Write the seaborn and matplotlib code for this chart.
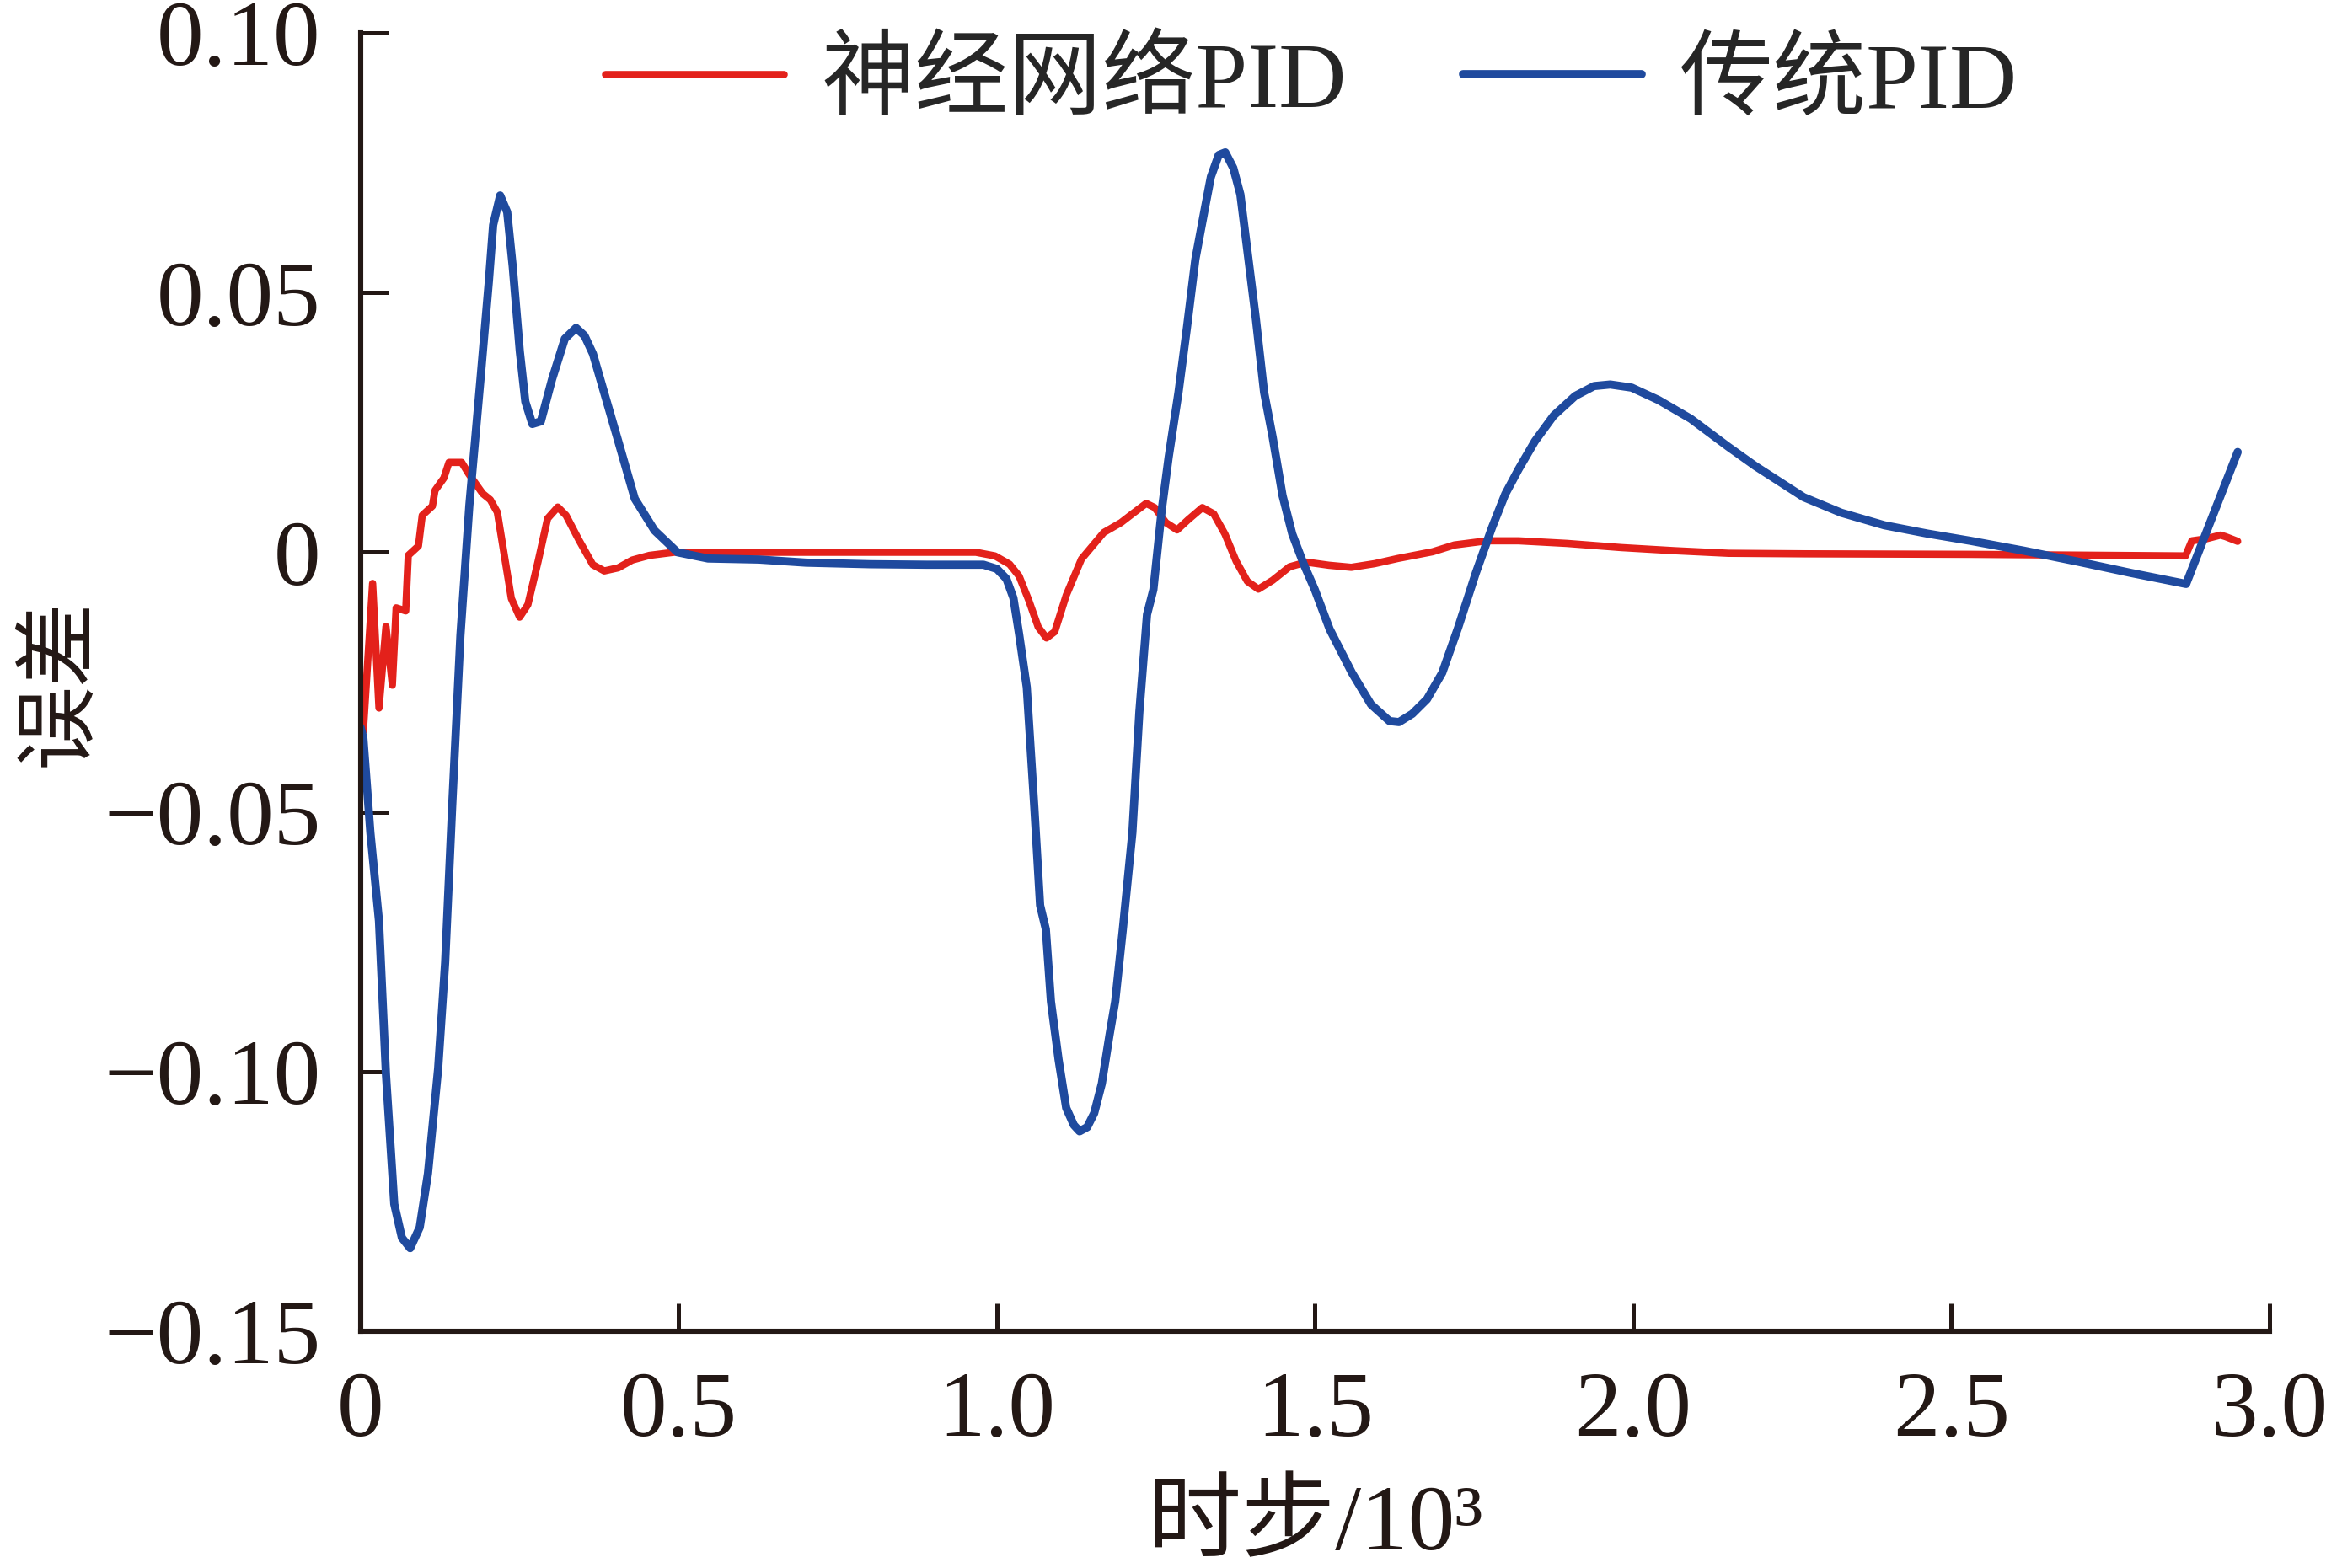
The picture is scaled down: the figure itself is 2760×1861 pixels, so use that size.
import numpy as np
import pandas as pd
import seaborn as sns
import matplotlib
matplotlib.use("Agg")
import matplotlib.pyplot as plt

# time step (x 10^3) and error
nn_x = [0.0, 0.0044, 0.019, 0.029, 0.040, 0.050, 0.056, 0.071, 0.075, 0.091, 0.097,
        0.113, 0.117, 0.131, 0.139, 0.159, 0.170, 0.192, 0.204, 0.215, 0.226, 0.237,
        0.250, 0.263, 0.279, 0.294, 0.310, 0.323, 0.343, 0.365, 0.383, 0.405, 0.427,
        0.454, 0.493, 0.626, 0.800, 0.967, 0.997, 1.020, 1.035, 1.050, 1.065, 1.078,
        1.091, 1.109, 1.133, 1.168, 1.195, 1.213, 1.2347, 1.248, 1.2657, 1.2833, 1.301,
        1.323, 1.3408, 1.3585, 1.376, 1.3937, 1.411, 1.4334, 1.46, 1.4865, 1.5218,
        1.557, 1.5935, 1.630, 1.685, 1.719, 1.770, 1.820, 1.896, 1.981, 2.065, 2.150,
        2.270, 2.530, 2.868, 2.878, 2.901, 2.923, 2.931, 2.950]
nn_y = [-0.034, -0.0345, -0.006, -0.030, -0.0143, -0.0256, -0.0107, -0.0113, -0.0006,
        0.0012, 0.0071, 0.0089, 0.0119, 0.0143, 0.0173, 0.0173, 0.0151, 0.0113, 0.0101,
        0.0077, -0.0006, -0.0089, -0.0125, -0.0101, -0.0018, 0.0065, 0.0087, 0.0071,
        0.0024, -0.0024, -0.0036, -0.003, -0.0015, -0.0006, 0.0, 0.0, 0.0, 0.0, -0.0007,
        -0.0023, -0.0046, -0.0092, -0.0144, -0.0165, -0.0153, -0.0083, -0.0013, 0.0038,
        0.0057, 0.0074, 0.0094, 0.0086, 0.0057, 0.0043, 0.0063, 0.0086, 0.0074, 0.0035,
        -0.0017, -0.0056, -0.0071, -0.0054, -0.0028, -0.0019, -0.0025, -0.0029, -0.0022,
        -0.0012, 0.0001, 0.0014, 0.0022, 0.0022, 0.0017, 0.0009, 0.0003, -0.0002,
        -0.0003, -0.0004, -0.0007, 0.0022, 0.0026, 0.0033, 0.003, 0.0021]

pid_x = [0.0, 0.0044, 0.0155, 0.029, 0.040, 0.053, 0.065, 0.078, 0.093, 0.106, 0.122,
         0.133, 0.144, 0.157, 0.171, 0.1885, 0.2017, 0.2084, 0.2194, 0.2305, 0.2392,
         0.2503, 0.259, 0.270, 0.2834, 0.301, 0.321, 0.3387, 0.352, 0.3653, 0.3806,
         0.405, 0.431, 0.462, 0.498, 0.546, 0.626, 0.700, 0.800, 0.890, 0.979, 1.000,
         1.015, 1.026, 1.035, 1.047, 1.059, 1.068, 1.077, 1.085, 1.097, 1.109, 1.121,
         1.130, 1.142, 1.153, 1.165, 1.177, 1.186, 1.198, 1.213, 1.224, 1.236, 1.246,
         1.259, 1.270, 1.2855, 1.2988, 1.312, 1.3275, 1.3364, 1.3487, 1.359, 1.3716,
         1.3827, 1.3937, 1.407, 1.420, 1.4334, 1.449, 1.4643, 1.482, 1.4997, 1.523,
         1.558, 1.588, 1.617, 1.632, 1.653, 1.676, 1.700, 1.725, 1.7527, 1.778, 1.799,
         1.820, 1.8457, 1.875, 1.909, 1.9385, 1.964, 1.9977, 2.040, 2.0905, 2.1496,
         2.192, 2.268, 2.327, 2.3946, 2.4622, 2.530, 2.614, 2.6986, 2.783, 2.869, 2.950]
pid_y = [-0.0337, -0.0357, -0.054, -0.071, -0.1006, -0.1255, -0.132, -0.134, -0.130,
         -0.1196, -0.0994, -0.079, -0.049, -0.016, 0.009, 0.0333, 0.0522, 0.063, 0.0687,
         0.0655, 0.055, 0.0387, 0.029, 0.0247, 0.0252, 0.0333, 0.0411, 0.0432, 0.0417,
         0.0382, 0.0317, 0.0214, 0.0103, 0.0042, 0.0, -0.0012, -0.0014, -0.002, -0.0023,
         -0.0024, -0.0024, -0.0032, -0.0051, -0.0088, -0.0158, -0.026, -0.0493, -0.068,
         -0.0726, -0.0865, -0.0977, -0.107, -0.1103, -0.1115, -0.1107, -0.108, -0.1023,
         -0.093, -0.0865, -0.0726, -0.054, -0.0307, -0.012, -0.0072, 0.008, 0.0183,
         0.0308, 0.0433, 0.0564, 0.0666, 0.0723, 0.0765, 0.077, 0.074, 0.0689, 0.0581,
         0.045, 0.0308, 0.0222, 0.0109, 0.0035, -0.0022, -0.0072, -0.0148, -0.0232,
         -0.0293, -0.0325, -0.0327, -0.0311, -0.0283, -0.0232, -0.0145, -0.004, 0.0047,
         0.0112, 0.016, 0.0214, 0.0263, 0.0301, 0.032, 0.0323, 0.0317, 0.0293, 0.0257,
         0.0203, 0.0166, 0.0106, 0.0076, 0.0052, 0.0036, 0.0022, 0.0003, -0.0018, -0.004,
         -0.0061, 0.0193]

labels = ['神经网络PID', '传统PID']
colors = ['#E3211B', '#1F4A9E']
x_ticks = [0, 0.5, 1.0, 1.5, 2.0, 2.5, 3.0]
x_ticklabels = ['0', '0.5', '1.0', '1.5', '2.0', '2.5', '3.0']
y_ticks = [-0.15, -0.10, -0.05, 0, 0.05, 0.10]
y_ticklabels = ['\u22120.15', '\u22120.10', '\u22120.05', '0', '0.05', '0.10']

sns.set_style("ticks")
plt.rcParams['font.family'] = ['Liberation Serif', 'Noto Sans CJK SC']
ink = '#231815'

fig = plt.figure(figsize=(13.8, 9.305), dpi=200)
ax = fig.add_axes([0.155, 0.151, 0.8207, 0.828])

#Red first so the blue curve sits on top
sns.lineplot(x=nn_x, y=nn_y, color=colors[0], linewidth=3.1, sort=False,
             estimator=None, label=labels[0], ax=ax)
sns.lineplot(x=pid_x, y=pid_y, color=colors[1], linewidth=3.5, sort=False,
             estimator=None, label=labels[1], ax=ax)

ax.set_xlim(0, 3.0)
ax.set_ylim(-0.15, 0.10)
ax.set_xticks(x_ticks)
ax.set_xticklabels(x_ticklabels)
ax.set_yticks(y_ticks)
ax.set_yticklabels(y_ticklabels)

for side in ['top', 'right']:
    ax.spines[side].set_visible(False)
for side in ['left', 'bottom']:
    ax.spines[side].set_linewidth(2.2)
    ax.spines[side].set_color(ink)

ax.tick_params(axis='both', direction='in', length=12, width=1.8, color=ink,
               labelsize=40, labelcolor=ink, pad=17)

ax.set_xlabel('时步/10\u00b3', fontsize=40, color=ink, labelpad=12)
ax.set_ylabel('误差', fontsize=36, color=ink)
ax.yaxis.set_label_coords(-0.136, 0.5)

ax.legend(loc='upper center', bbox_to_anchor=(0.498, 1.06), ncol=2, frameon=False,
          fontsize=40, handlelength=1.9, handletextpad=0.4, columnspacing=1.25)

fig.savefig('out.png', dpi=200)
